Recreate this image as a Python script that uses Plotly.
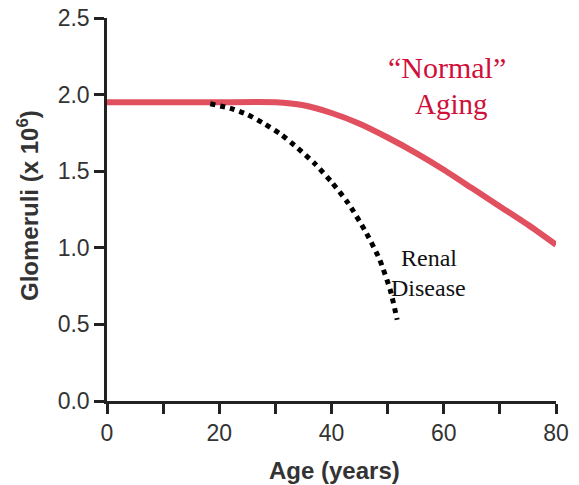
import plotly.graph_objects as go

# Data
normal_age = [0, 10, 20, 30, 35, 40, 45, 50, 55, 60, 65, 70, 75, 80]
normal_glom = [1.95, 1.95, 1.95, 1.95, 1.93, 1.88, 1.81, 1.72, 1.62, 1.51, 1.39, 1.27, 1.15, 1.02]
renal_age = [18.4, 22, 25, 28, 31, 34, 37, 40, 43, 46, 48.5, 50.5, 51.7]
renal_glom = [1.94, 1.91, 1.87, 1.81, 1.74, 1.65, 1.55, 1.43, 1.29, 1.11, 0.93, 0.72, 0.53]
x_ticks = [0, 10, 20, 30, 40, 50, 60, 70, 80]
x_labels = ["0", "", "20", "", "40", "", "60", "", "80"]
y_ticks = [0.0, 0.5, 1.0, 1.5, 2.0, 2.5]
y_labels = ["0.0", "0.5", "1.0", "1.5", "2.0", "2.5"]

fig = go.Figure()
fig.add_trace(go.Scatter(x=normal_age, y=normal_glom, mode="lines",
                         line=dict(color="#e0505f", width=6, shape="spline", smoothing=0.6),
                         showlegend=False, hoverinfo="skip"))
fig.add_trace(go.Scatter(x=renal_age, y=renal_glom, mode="lines",
                         line=dict(color="black", width=5, dash="5px,5px", shape="spline", smoothing=0.6),
                         showlegend=False, hoverinfo="skip"))

axis_font = dict(family="Liberation Sans, Arial, sans-serif", size=23, color="#333333")
common = dict(showline=True, linecolor="#222222", linewidth=2.5, ticks="outside", ticklen=10,
              tickwidth=2.5, tickcolor="#222222", showgrid=False, zeroline=False,
              tickfont=axis_font, automargin=False, ticklabeloverflow="allow")
fig.update_xaxes(range=[0, 80], tickvals=x_ticks, ticktext=x_labels, **common)
fig.update_yaxes(range=[0, 2.5], tickvals=y_ticks, ticktext=y_labels, **common)

serif = "Liberation Serif, Times New Roman, serif"
sans = "Liberation Sans, Arial, sans-serif"
annots = [
    dict(text="<b>Age (years)</b>", x=334, y=470, font=dict(family=sans, size=24, color="#333333")),
    dict(text="<b>Glomeruli (x 10<sup>6</sup>)</b>", x=28, y=206, textangle=-90,
         font=dict(family=sans, size=24, color="#333333")),
    dict(text="“Normal”", x=447, y=68, font=dict(family=serif, size=30, color="#d0103a")),
    dict(text="Aging", x=451, y=104, font=dict(family=serif, size=29, color="#d0103a")),
    dict(text="Renal", x=429, y=258, font=dict(family=serif, size=24, color="#111111")),
    dict(text="Disease", x=428, y=288, font=dict(family=serif, size=24, color="#111111")),
]
# The page body has an 8px margin, so the figure starts at (8, 8) in the window.
OFF = 8
W, H = 579 - OFF, 485 - OFF
plot_l, plot_r, plot_t, plot_b = 107, 556, 18, 401  # in window pixels
for a in annots:
    fig.add_annotation(text=a["text"],
                       x=(a["x"] - plot_l) / (plot_r - plot_l),
                       y=(plot_b - a["y"]) / (plot_b - plot_t),
                       xref="paper", yref="paper",
                       showarrow=False, font=a["font"], textangle=a.get("textangle", 0),
                       xanchor="center", yanchor="middle")

fig.update_layout(width=W, height=H,
                  margin=dict(l=plot_l - OFF, r=579 - plot_r, t=plot_t - OFF, b=485 - plot_b),
                  plot_bgcolor="white", paper_bgcolor="white")
fig.write_html("out.html")
